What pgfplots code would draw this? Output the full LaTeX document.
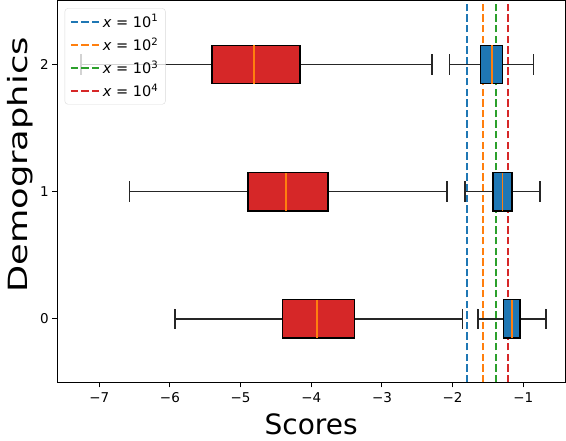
\documentclass[border=0pt]{standalone}
\usepackage{pgfplots}
\pgfplotsset{compat=1.18}
\usepgfplotslibrary{statistics}
\usepackage{fontspec}
\setmainfont{DejaVu Sans}
\definecolor{tabblue}{HTML}{1F77B4}
\definecolor{taborange}{HTML}{FF7F0E}
\definecolor{tabgreen}{HTML}{2CA02C}
\definecolor{tabred}{HTML}{D62728}
\pgfplotsset{
  redbox/.style={forget plot, draw=black, fill=tabred, line width=1.6pt,
    boxplot/every box/.style={draw=black, fill=tabred, line width=1.6pt},
    boxplot/every whisker/.style={draw=black!85, line width=1.6pt},
    boxplot/every median/.style={draw=taborange, line width=1.6pt}},
  bluebox/.style={forget plot, draw=black, fill=tabblue, line width=1.6pt,
    boxplot/every box/.style={draw=black, fill=tabblue, line width=1.6pt},
    boxplot/every whisker/.style={draw=black!85, line width=1.6pt},
    boxplot/every median/.style={draw=taborange, line width=1.6pt}},
}
\begin{document}
\begin{tikzpicture}
\begin{axis}[
  scale only axis, width=507.7pt, height=381.3pt,
  xmin=-7.594, xmax=-0.41, ymin=-0.5, ymax=2.5,
  xtick={-7,-6,-5,-4,-3,-2,-1},
  xticklabels={−7,−6,−5,−4,−3,−2,−1},
  ytick={0,1,2}, yticklabels={0,1,2},
  tick align=outside, major tick length=5pt,
  xtick pos=bottom, ytick pos=left,
  tick style={black, line width=1pt},
  axis line style={line width=1pt},
  ticklabel style={font=\fontsize{13.5}{15}\selectfont},
  xticklabel style={yshift=-1.5pt},
  xlabel={Scores},
  xlabel style={at={([yshift=-52.7pt]rel axis cs:0.5,0)}, anchor=base, font=\fontsize{28}{32}\selectfont},
  ylabel={\scalebox{1.33}[1]{Demographics}},
  ylabel style={at={([xshift=-29.3pt]rel axis cs:0,0.57)}, anchor=base, font=\fontsize{26.5}{30}\selectfont},
  legend cell align=left,
  legend image code/.code={\draw[#1] (0pt,0pt) -- (29pt,0pt);},
  legend style={at={([xshift=7.4pt,yshift=-7.3pt]rel axis cs:0,1)}, anchor=north west,
    font=\fontsize{14.5}{16}\selectfont, draw=black!15, rounded corners=3pt,
    fill=white, fill opacity=0.8, text opacity=1, draw opacity=1,
    inner xsep=5pt, inner ysep=4pt, row sep=5pt},
]
\addplot[tabblue, line width=2pt, dash pattern=on 7.4pt off 3.2pt] coordinates {(-1.792,-0.5) (-1.792,2.5)};
\addlegendentry{\textit{x} = 10\textsuperscript{1}}
\addplot[taborange, line width=2pt, dash pattern=on 7.4pt off 3.2pt] coordinates {(-1.570,-0.5) (-1.570,2.5)};
\addlegendentry{\textit{x} = 10\textsuperscript{2}}
\addplot[tabgreen, line width=2pt, dash pattern=on 7.4pt off 3.2pt] coordinates {(-1.391,-0.5) (-1.391,2.5)};
\addlegendentry{\textit{x} = 10\textsuperscript{3}}
\addplot[tabred, line width=2pt, dash pattern=on 7.4pt off 3.2pt] coordinates {(-1.221,-0.5) (-1.221,2.5)};
\addlegendentry{\textit{x} = 10\textsuperscript{4}}

% red boxes
\addplot[redbox, boxplot prepared={draw position=0, lower whisker=-5.929, lower quartile=-4.405, median=-3.919, upper quartile=-3.386, upper whisker=-1.863, box extend=0.3, whisker extend=0.16}] coordinates {};
\addplot[redbox, boxplot prepared={draw position=1, lower whisker=-6.575, lower quartile=-4.892, median=-4.358, upper quartile=-3.764, upper whisker=-2.080, box extend=0.3, whisker extend=0.16}] coordinates {};
\addplot[redbox, boxplot prepared={draw position=2, lower whisker=-7.259, lower quartile=-5.401, median=-4.811, upper quartile=-4.160, upper whisker=-2.296, box extend=0.3, whisker extend=0.16}] coordinates {};
% blue boxes
\addplot[bluebox, boxplot prepared={draw position=0, lower whisker=-1.645, lower quartile=-1.283, median=-1.160, upper quartile=-1.043, upper whisker=-0.679, box extend=0.3, whisker extend=0.16}] coordinates {};
\addplot[bluebox, boxplot prepared={draw position=1, lower whisker=-1.825, lower quartile=-1.433, median=-1.292, upper quartile=-1.156, upper whisker=-0.764, box extend=0.3, whisker extend=0.16}] coordinates {};
\addplot[bluebox, boxplot prepared={draw position=2, lower whisker=-2.042, lower quartile=-1.603, median=-1.443, upper quartile=-1.297, upper whisker=-0.853, box extend=0.3, whisker extend=0.16}] coordinates {};
\end{axis}
\pgfresetboundingbox
\path[use as bounding box] ([shift={(-57.3pt,-58.7pt)}]current axis.south west) rectangle ([shift={(1pt,1pt)}]current axis.north east);
\end{tikzpicture}
\end{document}
